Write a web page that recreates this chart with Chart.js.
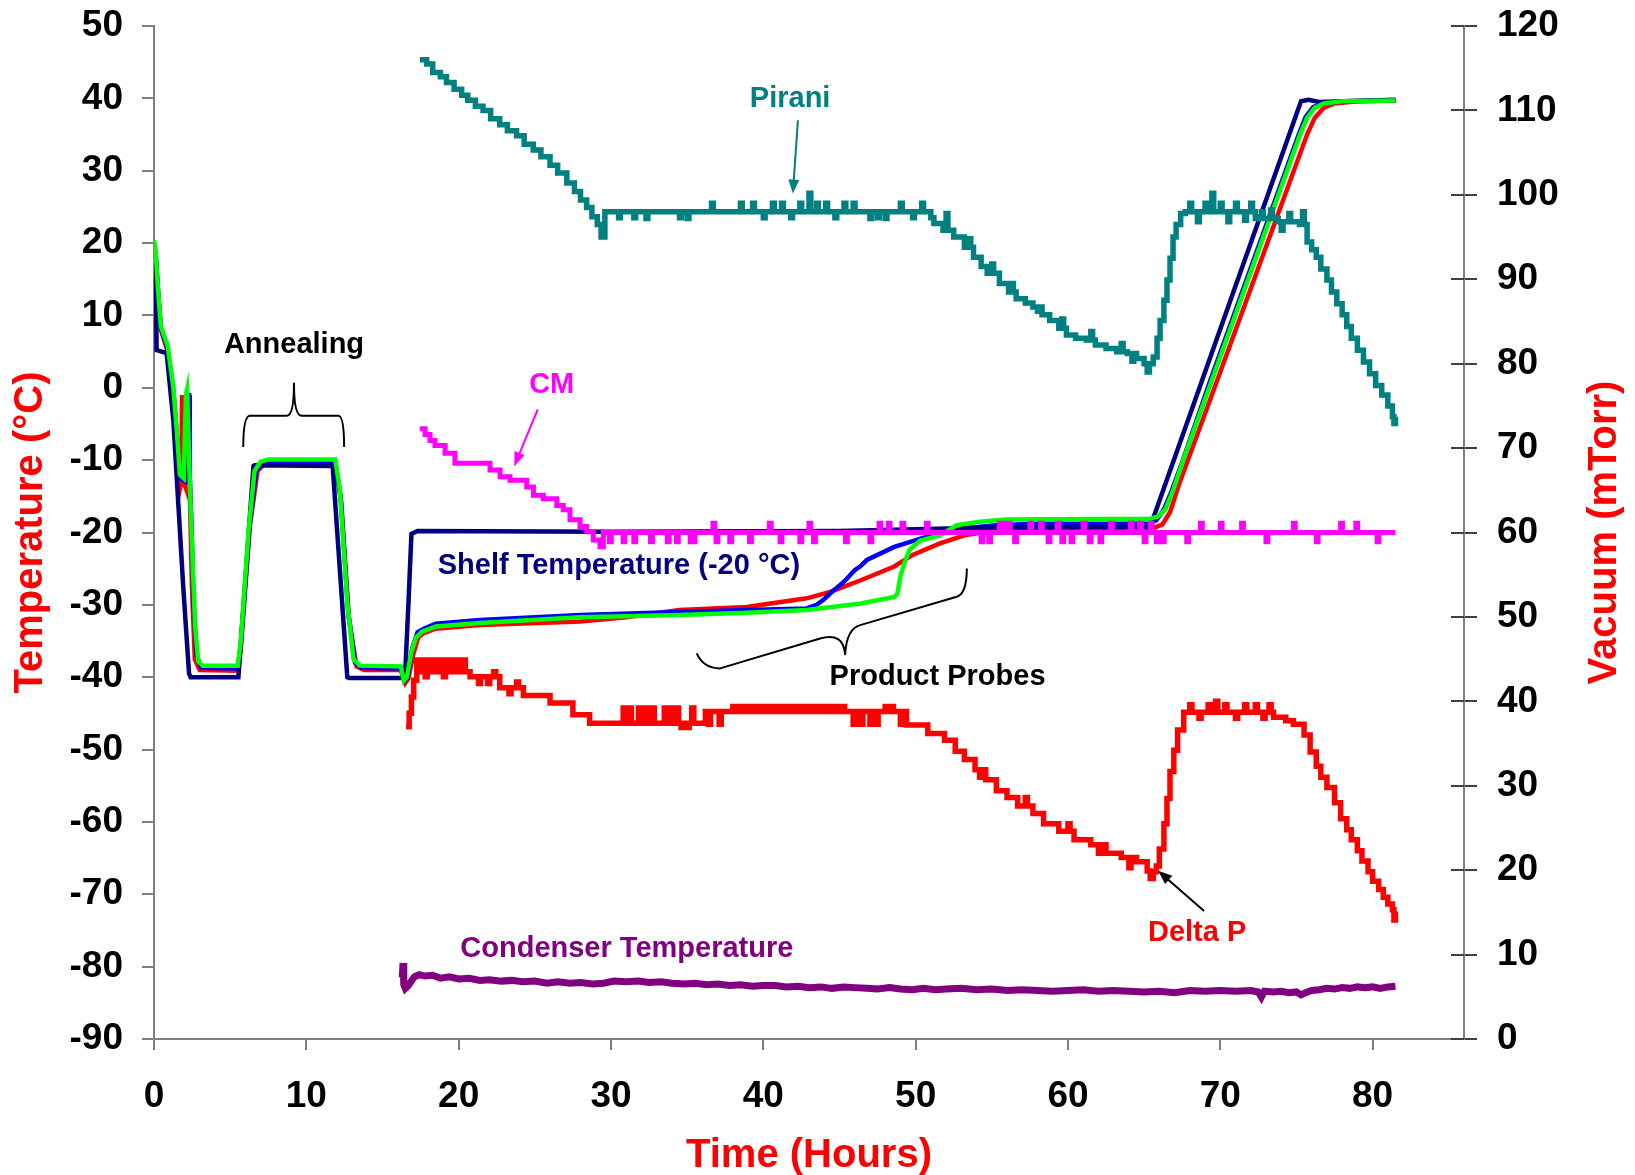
<!DOCTYPE html>
<html><head><meta charset="utf-8">
<script src="https://cdn.jsdelivr.net/npm/chart.js@4.4.1/dist/chart.umd.min.js"></script>
<style>html,body{margin:0;padding:0;background:#fff;} canvas{display:block;}</style>
</head><body>
<canvas id="c" width="1635" height="1175" style="width:1635px;height:1175px"></canvas>
<script>
// ---------- DATA (hours / values) ----------
const shelfH = [0, 0.12, 0.17, 0.83, 1.27, 1.92, 2.3, 2.4, 5.54, 6.53, 6.6, 11.73, 12.69, 12.8, 16.3, 16.5, 16.7, 16.9, 17.3, 30, 45, 55, 65.4, 75.3, 75.8, 76.5, 81.5];
const shelfT = [17.2, 17.0, 5.2, 4.8, -4.5, -27.5, -39.5, -40.0, -40.0, -10.8, -10.7, -10.8, -40.0, -40.1, -40.1, -39.0, -30.0, -20.2, -19.8, -19.9, -19.8, -19.3, -19.2, 39.6, 39.8, 39.5, 39.8];

const greenH = [0, 0.1, 0.25, 0.45, 0.9, 1.27, 1.5, 1.7, 1.95, 2.1, 2.17, 2.25, 2.36, 2.5, 2.7, 2.9, 3.2, 5.5, 5.7, 6.2, 6.6, 7.0, 7.5, 11.9, 12.2, 12.7, 13.1, 13.5, 16.2, 16.4, 16.6, 16.9, 17.2, 17.6, 18.5, 21.4, 28, 34.5, 38.9, 42.85, 46.4, 48.6, 48.8, 49.0, 49.3, 49.6, 50.3, 51.6, 52.7, 54.2, 56, 65.4, 65.9, 66.4, 66.9, 67.6, 69.45, 75.24, 75.7, 76.2, 76.8, 78, 81.5];
const greenT = [20.4, 19, 14, 8.5, 5.8, 0, -6, -12, -12.5, -1, -0.3, -6, -13.7, -22, -33, -37.8, -38.4, -38.4, -35, -20, -11.5, -10.2, -9.9, -9.9, -14, -30, -37.5, -38.4, -38.5, -40.5, -40, -36.5, -34.5, -33.7, -33.0, -32.5, -31.7, -31.4, -31.1, -30.7, -29.8, -28.9, -28.5, -26.1, -24, -22.4, -21.1, -20.4, -19.0, -18.5, -18.2, -18.1, -17.8, -16.8, -14.2, -9.8, 1.05, 35, 37.3, 38.7, 39.3, 39.6, 39.7];

const redH = [0, 0.1, 0.25, 0.45, 0.9, 1.27, 1.5, 1.75, 1.8, 1.84, 1.9, 1.95, 2.2, 2.36, 2.5, 2.68, 3.0, 5.5, 5.7, 6.3, 6.8, 7.3, 11.9, 12.3, 12.8, 13.3, 13.8, 16.2, 16.5, 16.7, 17.0, 17.35, 17.7, 18.5, 21.4, 28, 31, 34.5, 38.9, 42.85, 44.4, 46.4, 48.6, 49.8, 51.6, 53.2, 55.3, 58, 65.6, 66.2, 66.7, 67.3, 69.8, 75.7, 76.2, 76.8, 77.5, 79, 81.5];
const redT = [19.5, 18.5, 13.5, 8, 5, -0.8, -7, -13.5, -13, -1, -1, -13, -14.5, -15.5, -28, -37.5, -39.0, -39.1, -36, -19, -11.5, -10.4, -10.3, -16, -32, -38.5, -39.0, -39.0, -40.8, -40.2, -37, -34.5, -33.9, -33.3, -32.8, -32.3, -31.7, -30.7, -30.3, -29.1, -28.2, -26.6, -24.7, -23.1, -21.5, -20.4, -19.7, -19.4, -19.4, -18.9, -17.2, -13.3, 1.05, 35, 37.3, 38.7, 39.3, 39.6, 39.7];

const blueH = [0, 0.1, 0.25, 0.45, 0.9, 1.27, 1.5, 1.7, 2.1, 2.2, 2.25, 2.3, 2.35, 2.45, 2.6, 2.8, 3.1, 5.5, 5.7, 6.25, 6.7, 7.2, 11.9, 12.25, 12.75, 13.2, 13.6, 16.2, 16.45, 16.65, 16.95, 17.3, 17.7, 18.5, 21.4, 28, 34.5, 38.9, 42.85, 43.5, 43.95, 44.4, 45.3, 46.0, 46.35, 46.8, 48.6, 50.7, 53.2, 55.3, 58, 65.3, 65.8, 66.3, 66.8, 67.5, 69.35, 75.15, 75.6, 76.1, 76.7, 78, 81.5];
const blueT = [19.8, 18.8, 14, 8.3, 5.4, -0.4, -6.5, -12.5, -13, -2, -1, -1, -12, -18, -30, -37, -38.7, -38.8, -35.5, -19.5, -11.5, -10.4, -10.3, -15, -31, -38, -38.7, -38.8, -40.5, -40, -36, -33.8, -33.3, -32.6, -32.1, -31.4, -31.0, -30.7, -30.5, -30, -29.3, -28.4, -26.8, -25.2, -24.7, -23.8, -22.0, -20.6, -19.4, -19.0, -18.8, -18.8, -18.3, -16.8, -14.3, -10.3, 1.05, 35, 37.4, 38.8, 39.3, 39.6, 39.7];

const condH = [16.3, 16.35, 16.4, 16.5, 16.7, 16.9, 17.1, 17.4, 17.8, 18.3, 18.8, 19.4, 20, 20.7, 21.4, 22, 22.8, 23.5, 24.2, 25, 25.8, 26.5, 27.3, 28, 28.8, 29.5, 30.2, 31, 31.8, 32.5, 33.3, 34, 34.8, 35.5, 36.3, 37, 37.8, 38.5, 39.3, 40, 40.8, 41.5, 42.3, 43, 43.8, 44.5, 45.3, 46, 46.8, 47.5, 48.3, 49, 49.8, 50.5, 51.3, 52, 53, 54, 55, 56, 57, 58, 59, 60, 61, 62, 63, 64, 65, 66, 67, 68, 69, 70, 71, 72, 72.5, 72.7, 72.9, 73.5, 74, 74.5, 75, 75.3, 75.6, 76, 76.5, 77, 77.5, 78, 78.5, 79, 79.5, 80, 80.5, 81, 81.5];
const condT = [-81.5, -79.5, -82.5, -83.0, -82.6, -82.0, -81.4, -81.1, -81.3, -81.2, -81.6, -81.4, -81.7, -81.6, -81.9, -81.8, -82.0, -81.9, -82.1, -82.0, -82.3, -82.1, -82.3, -82.2, -82.4, -82.3, -82.0, -82.1, -82.0, -82.2, -82.1, -82.3, -82.4, -82.3, -82.5, -82.4, -82.6, -82.5, -82.7, -82.6, -82.6, -82.8, -82.7, -82.9, -82.8, -83.0, -82.8, -82.9, -83.0, -83.1, -82.9, -83.1, -83.2, -83.0, -83.2, -83.1, -83.0, -83.2, -83.1, -83.3, -83.2, -83.3, -83.4, -83.3, -83.2, -83.4, -83.3, -83.4, -83.5, -83.4, -83.6, -83.3, -83.4, -83.3, -83.4, -83.3, -83.5, -84.2, -83.4, -83.5, -83.4, -83.6, -83.5, -83.9, -83.6, -83.3, -83.2, -83.0, -83.1, -82.9, -83.0, -82.8, -82.9, -82.8, -83.0, -82.8, -82.7];

const piraniH = [17.45, 17.9, 18.3, 18.8, 19.2, 19.7, 20.2, 20.6, 21.1, 21.6, 22.1, 22.7, 23.2, 23.8, 24.3, 24.9, 25.4, 26.0, 26.5, 27.1, 27.6, 28.0, 28.4, 28.75, 29.1, 29.35, 29.6, 51.0, 51.2, 51.8, 52.5, 53.2, 53.8, 54.3, 54.7, 55.5, 56.1, 56.6, 57.2, 57.7, 58.3, 58.8, 59.4, 59.9, 60.5, 61.2, 61.8, 62.5, 63.2, 63.9, 64.5, 65.0, 65.2, 65.35, 65.6, 65.85, 66.05, 66.3, 66.5, 66.7, 66.9, 67.1, 67.4, 67.7, 72.3, 73.8, 75.2, 75.7, 76.0, 76.3, 76.6, 77.0, 77.3, 77.65, 78.0, 78.3, 78.6, 79.0, 79.4, 79.8, 80.2, 80.6, 81.0, 81.3, 81.4, 81.5];
const piraniV = [116.0, 115.5, 114.5, 114.0, 113.3, 112.5, 111.8, 111.2, 110.5, 110.0, 109.0, 108.3, 107.6, 107.0, 106.0, 105.3, 104.5, 103.5, 102.6, 101.4, 100.4, 99.4, 98.5, 97.4, 96.5, 95.0, 98.0, 97.3, 96.6, 95.8, 95.0, 93.8, 92.6, 91.5, 90.7, 89.5, 88.5, 87.7, 87.2, 86.7, 85.8, 85.1, 84.2, 83.4, 83.0, 82.8, 82.2, 81.8, 81.4, 81.2, 80.6, 80.0, 79.0, 80.0, 80.8, 83.0, 85.1, 87.5, 89.9, 92.5, 95.0, 96.5, 97.8, 98.0, 97.2, 96.8, 96.5, 94.4, 93.5, 92.6, 91.2, 89.9, 88.5, 87.1, 85.8, 84.4, 83.0, 81.6, 80.2, 78.8, 77.4, 76.3, 75.0, 73.7, 72.9, 73.7];
const piraniSpikeH = [30.5, 31.5, 32.3, 34.5, 35.0, 36.6, 38.5, 39.3, 40.0, 40.6, 41.2, 41.8, 42.4, 43.0, 43.5, 44.1, 44.7, 45.3, 45.9, 47.0, 47.5, 48.0, 49.0, 49.8, 50.4, 52.0, 53.5, 55.0, 56.3, 58.0, 59.6, 61.5, 63.5, 64.2, 68.0, 68.5, 69.0, 69.45, 70.0, 70.5, 71.0, 71.6, 72.0, 72.7, 73.3, 74.0, 74.5, 75.4];
const piraniSpikeV = [97.3, 97.3, 97.2, 97.3, 97.2, 99.0, 99.0, 99.0, 97.3, 99.0, 99.0, 97.3, 99.0, 100.2, 99.0, 99.0, 97.3, 99.0, 99.0, 97.2, 97.3, 97.2, 99.0, 97.3, 99.0, 97.8, 94.8, 91.8, 89.5, 86.2, 85.3, 83.8, 82.4, 80.3, 99.0, 96.8, 99.0, 100.2, 99.0, 96.8, 99.0, 97.0, 99.0, 98.0, 98.2, 95.8, 97.8, 98.0];

const cmH = [17.45, 17.8, 18.12, 18.45, 19.11, 19.76, 22.06, 22.72, 23.37, 24.47, 24.91, 25.56, 26.44, 26.87, 27.31, 27.97, 28.41, 28.84, 29.28, 29.5, 81.5];
const cmV = [72.3, 71.6, 70.9, 70.3, 69.4, 68.2, 67.4, 66.6, 66.2, 65.4, 64.4, 64.0, 63.2, 62.7, 61.5, 60.7, 60.1, 59.1, 58.3, 60.0, 60.0];
const cmSpikeH = [29.9, 30.8, 31.5, 32.6, 33.7, 34.3, 35.2, 35.4, 36.7, 36.9, 37.8, 39.1, 40.4, 41.1, 42.4, 43.0, 43.3, 45.4, 47.0, 47.6, 48.2, 49.1, 50.7, 54.3, 54.8, 55.5, 55.8, 56.1, 56.5, 57.5, 58.2, 58.7, 59.3, 59.6, 60.2, 61.0, 61.4, 62.1, 62.8, 64.1, 64.7, 65.0, 65.4, 65.8, 66.2, 67.8, 68.7, 70.0, 71.4, 73.0, 74.8, 76.3, 77.9, 78.9, 80.3];
const cmSpikeV = [58.9, 58.9, 58.9, 58.9, 58.9, 58.9, 58.9, 58.9, 61.1, 58.9, 58.9, 58.9, 61.1, 58.9, 58.9, 61.1, 58.9, 58.9, 58.9, 61.1, 61.1, 61.1, 61.1, 58.9, 58.9, 61.1, 61.1, 61.1, 58.9, 61.1, 61.1, 58.9, 61.1, 58.9, 58.9, 61.1, 58.9, 58.9, 61.1, 61.1, 61.1, 58.9, 61.1, 58.9, 58.9, 58.9, 61.1, 61.1, 61.1, 58.9, 61.1, 58.9, 61.1, 61.1, 58.9];

const dpH = [16.55, 16.75, 16.9, 17.05, 17.25, 17.4, 20.75, 22.7, 24.25, 26.0, 27.5, 28.6, 36.2, 49.4, 50.8, 51.9, 52.6, 53.2, 53.9, 54.6, 55.3, 56.0, 56.7, 57.7, 58.4, 59.4, 60.4, 61.5, 62.5, 63.5, 64.5, 65.2, 65.4, 65.6, 65.8, 66.0, 66.3, 66.5, 66.7, 66.95, 67.2, 67.6, 73.5, 74.3, 74.8, 75.5, 75.9, 76.3, 76.6, 77.0, 77.5, 77.9, 78.3, 78.6, 79.0, 79.3, 79.7, 80.0, 80.4, 80.7, 81.0, 81.3, 81.4, 81.5];
const dpV = [37.0, 38.6, 40.5, 42.5, 44.9, 43.5, 42.9, 41.6, 40.7, 39.8, 38.4, 37.4, 38.8, 37.2, 36.2, 35.4, 34.1, 33.1, 31.9, 30.7, 29.4, 28.6, 27.6, 26.7, 25.5, 24.6, 23.6, 23.0, 22.0, 21.5, 21.0, 19.9, 19.0, 19.8, 20.5, 22.5, 25.5, 28.5, 31.7, 34.2, 36.6, 38.7, 38.1, 37.7, 37.3, 36.0, 34.0, 32.3, 31.0, 29.8, 28.0, 26.1, 24.8, 23.6, 22.3, 21.1, 19.8, 18.7, 17.7, 16.8, 16.0, 15.3, 14.1, 15.1];
const dpSpikeH = [17.6, 17.8, 18.0, 18.4, 18.8, 19.0, 19.3, 19.8, 20.3, 21.3, 21.9, 22.3, 23.3, 23.8, 30.8, 31.2, 31.8, 32.2, 32.7, 33.5, 33.9, 34.3, 34.6, 35.0, 35.3, 36.4, 37.1, 38.0, 38.4, 38.8, 39.3, 39.7, 40.2, 40.6, 41.0, 41.5, 41.9, 42.3, 42.7, 43.1, 43.5, 44.0, 44.4, 44.8, 45.2, 45.9, 46.4, 47.0, 47.4, 48.0, 48.4, 49.0, 54.2, 57.2, 60.0, 62.0, 64.0, 68.0, 68.6, 69.2, 69.7, 70.3, 71.0, 71.6, 72.3, 72.8, 73.2];
const dpSpikeV = [44.9, 42.9, 44.9, 44.9, 44.9, 42.9, 44.9, 44.9, 44.9, 42.1, 42.1, 43.5, 40.9, 42.3, 39.2, 39.2, 39.2, 39.2, 39.2, 39.2, 39.2, 39.2, 36.9, 36.9, 39.2, 37.3, 37.3, 39.4, 39.4, 39.4, 39.4, 39.4, 39.4, 39.4, 39.4, 39.4, 39.4, 39.4, 39.4, 39.4, 39.4, 39.4, 39.4, 39.4, 39.4, 37.3, 37.3, 37.3, 37.3, 39.4, 39.4, 37.3, 31.0, 28.6, 25.5, 22.0, 20.3, 39.6, 38.0, 39.6, 40.0, 39.6, 38.0, 39.6, 39.6, 38.0, 39.6];

const xTickStep = 10, tempMin = -90, tempMax = 50, vacMin = 0, vacMax = 120, hourMax = 86;

// ---------- helpers ----------
function pts(h, v) { const n = Math.min(h.length, v.length); const out = []; for (let i = 0; i < n; i++) out.push({x: h[i], y: v[i]}); return out; }
function stepAt(h, v, t) { let val = v[0]; for (let i = 0; i < h.length; i++) { if (h[i] <= t) val = v[i]; else break; } return val; }
function stepped(h, v, sh, sv, w) {
  const out = pts(h, v);
  const n = Math.min(sh.length, sv.length);
  for (let i = 0; i < n; i++) { out.push({x: sh[i], y: sv[i]}); out.push({x: sh[i] + w, y: stepAt(h, v, sh[i] + w)}); }
  out.sort((a, b) => a.x - b.x);
  return out;
}

Chart.defaults.font.family = "'Liberation Sans', Arial, Helvetica, sans-serif";
Chart.defaults.font.weight = 'bold';

const FONT = "'Liberation Sans', Arial, Helvetica, sans-serif";
const notes = [
  {text: 'Annealing', x: 9.19, y: 4.78, axis: 'y', color: '#000000'},
  {text: 'Pirani', x: 41.76, y: 110.4, axis: 'y2', color: '#008080'},
  {text: 'CM', x: 26.11, y: 76.47, axis: 'y2', color: '#FF00FF'},
  {text: 'Shelf Temperature (-20 °C)', x: 30.52, y: -25.68, axis: 'y', color: '#000080'},
  {text: 'Product Probes', x: 51.44, y: -41.09, axis: 'y', color: '#000000'},
  {text: 'Delta P', x: 68.48, y: 11.64, axis: 'y2', color: '#FF0000'},
  {text: 'Condenser Temperature', x: 31.04, y: -78.67, axis: 'y', color: '#800080'}
];
const arrows = [
  {from: [42.27, 108.84], to: [41.94, 100.16], axis: 'y2', color: '#008080'},
  {from: [25.19, 74.57], to: [23.65, 67.86], axis: 'y2', color: '#FF00FF'},
  {from: [68.94, 15.16], to: [65.92, 19.93], axis: 'y2', color: '#000000'}
];
const braces = [
  [['M', 5.86, -8.17], ['Q', 5.86, -3.88, 6.30, -3.88], ['L', 8.71, -3.88], ['Q', 9.19, -3.88, 9.19, 0.59],
   ['Q', 9.19, -3.88, 9.70, -3.88], ['L', 12.10, -3.88], ['Q', 12.48, -3.88, 12.48, -8.17]],
  [['M', 35.63, -36.71], ['Q', 36.07, -38.78, 37.16, -38.78], ['L', 43.73, -34.64], ['Q', 45.26, -33.73, 45.37, -36.81],
   ['Q', 45.48, -33.26, 46.36, -32.8], ['L', 52.7, -28.89], ['Q', 53.36, -28.42, 53.36, -24.97]]
];

const overlay = {
  id: 'overlay',
  afterDatasetsDraw(chart) {
    const ctx = chart.ctx, xs = chart.scales.x;
    ctx.save();
    ctx.strokeStyle = '#000'; ctx.lineWidth = 2; ctx.lineJoin = 'round';
    const ys = chart.scales.y;
    braces.forEach(b => {
      ctx.beginPath();
      b.forEach(c => {
        if (c[0] === 'M') ctx.moveTo(xs.getPixelForValue(c[1]), ys.getPixelForValue(c[2]));
        else if (c[0] === 'L') ctx.lineTo(xs.getPixelForValue(c[1]), ys.getPixelForValue(c[2]));
        else ctx.quadraticCurveTo(xs.getPixelForValue(c[1]), ys.getPixelForValue(c[2]), xs.getPixelForValue(c[3]), ys.getPixelForValue(c[4]));
      });
      ctx.stroke();
    });
    arrows.forEach(a => {
      const sc = chart.scales[a.axis];
      const x1 = xs.getPixelForValue(a.from[0]), y1 = sc.getPixelForValue(a.from[1]);
      const x2 = xs.getPixelForValue(a.to[0]), y2 = sc.getPixelForValue(a.to[1]);
      const ang = Math.atan2(y2 - y1, x2 - x1), L = 14, W = 5.5;
      ctx.strokeStyle = a.color; ctx.fillStyle = a.color; ctx.lineWidth = 2;
      ctx.beginPath(); ctx.moveTo(x1, y1); ctx.lineTo(x2 - Math.cos(ang) * L * 0.8, y2 - Math.sin(ang) * L * 0.8); ctx.stroke();
      ctx.beginPath();
      ctx.moveTo(x2, y2);
      ctx.lineTo(x2 - Math.cos(ang) * L - Math.sin(ang) * W, y2 - Math.sin(ang) * L + Math.cos(ang) * W);
      ctx.lineTo(x2 - Math.cos(ang) * L + Math.sin(ang) * W, y2 - Math.sin(ang) * L - Math.cos(ang) * W);
      ctx.closePath(); ctx.fill();
    });
    ctx.font = 'bold 29px ' + FONT; ctx.textAlign = 'center'; ctx.textBaseline = 'alphabetic';
    notes.forEach(n => {
      const sc = chart.scales[n.axis];
      ctx.fillStyle = n.color;
      ctx.fillText(n.text, xs.getPixelForValue(n.x), sc.getPixelForValue(n.y));
    });
    ctx.restore();
  },
  afterDraw(chart) {
    const ctx = chart.ctx, yr = chart.scales.y2, ca = chart.chartArea;
    ctx.save();
    ctx.strokeStyle = '#404040'; ctx.lineWidth = 2;
    yr.ticks.forEach(t => {
      const py = Math.round(yr.getPixelForValue(t.value));
      ctx.beginPath(); ctx.moveTo(yr.left - 13, py); ctx.lineTo(yr.left, py); ctx.stroke();
    });
    ctx.translate(yr.right - 30, (ca.top + ca.bottom) / 2);
    ctx.rotate(-Math.PI / 2);
    ctx.fillStyle = '#FF0000'; ctx.font = 'bold 40px ' + FONT;
    ctx.textAlign = 'center'; ctx.textBaseline = 'middle';
    ctx.fillText('Vacuum (mTorr)', 0, 0);
    ctx.restore();
  }
};

const tickFont = {size: 37, weight: 'bold', family: FONT};
const lineDs = (label, data, color, width, axis, step) => ({
  label, data, borderColor: color, backgroundColor: color, borderWidth: width, yAxisID: axis,
  pointRadius: 0, tension: 0, fill: false, stepped: step ? 'before' : false, borderCapStyle: 'butt', borderJoinStyle: 'miter'
});
function noPad(s) { s.paddingTop = 0; s.paddingBottom = 0; s.paddingLeft = 0; s.paddingRight = 0; }

new Chart(document.getElementById('c'), {
  type: 'line',
  data: {
    datasets: [
      lineDs('CM', stepped(cmH, cmV, cmSpikeH, cmSpikeV, 0.12), '#FF00FF', 5, 'y2', true),
      lineDs('Delta P', stepped(dpH, dpV, dpSpikeH, dpSpikeV, 0.14), '#FF0000', 5.5, 'y2', true),
      lineDs('Pirani', stepped(piraniH, piraniV, piraniSpikeH, piraniSpikeV, 0.12), '#008080', 5.5, 'y2', true),
      lineDs('Condenser Temperature', pts(condH, condT), '#800080', 7, 'y', false),
      lineDs('Probe green', pts(greenH, greenT), '#00FF00', 4.5, 'y', false),
      lineDs('Shelf Temperature', pts(shelfH, shelfT), '#000080', 4.5, 'y', false),
      lineDs('Probe blue', pts(blueH, blueT), '#0000FF', 4.5, 'y', false),
      lineDs('Probe red', pts(redH, redT), '#FF0000', 4.5, 'y', false)
    ]
  },
  options: {
    responsive: false, animation: false, devicePixelRatio: 1,
    layout: {padding: {top: 26, left: 0, right: 0, bottom: 0}},
    plugins: {legend: {display: false}, tooltip: {enabled: false}},
    scales: {
      x: {
        type: 'linear', position: 'bottom', min: 0, max: hourMax,
        ticks: {stepSize: xTickStep, includeBounds: false, font: tickFont, color: '#000', padding: 25, maxRotation: 0},
        grid: {drawOnChartArea: false, tickLength: 11, color: '#808080', lineWidth: 2},
        border: {color: '#808080', width: 2},
        title: {display: true, text: 'Time (Hours)', color: '#FF0000', font: {size: 40, weight: 'bold', family: FONT, lineHeight: 0.96}, padding: {top: 0, bottom: 0}},
        afterFit(s) { s.height = 136; noPad(s); }
      },
      y: {
        type: 'linear', position: 'left', min: tempMin, max: tempMax,
        ticks: {stepSize: 10, font: tickFont, color: '#000', padding: 19},
        grid: {drawOnChartArea: false, tickLength: 12, color: '#808080', lineWidth: 2},
        border: {color: '#808080', width: 2},
        title: {display: true, text: 'Temperature (°C)', color: '#FF0000', font: {size: 40, weight: 'bold', family: FONT}, padding: {top: 7, bottom: 0}},
        afterFit(s) { s.width = 154; noPad(s); }
      },
      y2: {
        type: 'linear', position: 'right', min: vacMin, max: vacMax,
        ticks: {stepSize: 10, font: tickFont, color: '#000', padding: 20},
        grid: {drawOnChartArea: false, tickLength: 13, color: '#404040', lineWidth: 2},
        border: {color: '#808080', width: 2},
        afterFit(s) { s.width = 171; noPad(s); }
      }
    }
  },
  plugins: [overlay]
});
</script></body></html>
